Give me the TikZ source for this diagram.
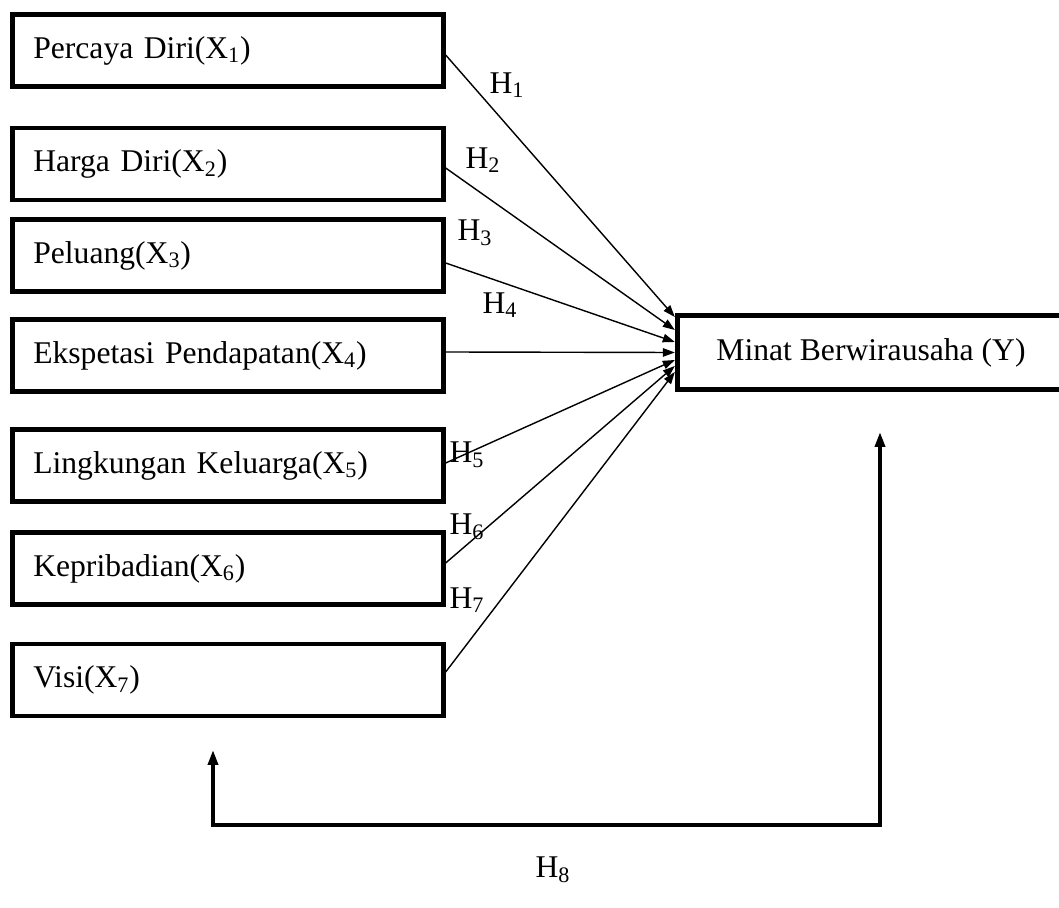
\documentclass[tikz,border=0pt]{standalone}
\usepackage{fontspec}
\setmainfont{Liberation Serif}
\usetikzlibrary{arrows.meta}

\tikzset{
    varbox/.style={draw, line width=2.8pt, minimum width=8.61cm, minimum height=1.44cm,
        text width=7.79cm, inner xsep=0.41cm, align=left, font=\fontsize{18}{22}\selectfont},
    depbox/.style={draw, line width=2.8pt, minimum width=7.75cm, minimum height=1.48cm,
        align=center, font=\fontsize{18}{22}\selectfont},
    hyp/.style={-{Triangle[length=0.24cm,width=0.17cm]}, line width=0.8pt},
    feedback/.style={{Triangle[length=0.3cm,width=0.2cm]}-{Triangle[length=0.3cm,width=0.2cm]}, line width=2pt},
    hlabel/.style={inner sep=0pt, font=\fontsize{18}{22}\selectfont}
}

% one variable box: name, y position (px), text
\newcommand{\varbox}[3]{
    \node[varbox] (#1) at (228,#2) {#3};
}

\begin{document}
\begin{tikzpicture}[x=0.02cm, y=-0.02cm]
    \useasboundingbox (0,0) rectangle (1059,908);

    \varbox{x1}{50.5}{Percaya Diri(X\textsubscript{1})}
    \varbox{x2}{164}{Harga Diri(X\textsubscript{2})}
    \varbox{x3}{255.5}{Peluang(X\textsubscript{3})}
    \varbox{x4}{355.5}{Ekspetasi Pendapatan(X\textsubscript{4})}
    \varbox{x5}{465.5}{Lingkungan Keluarga(X\textsubscript{5})}
    \varbox{x6}{568.5}{Kepribadian(X\textsubscript{6})}
    \varbox{x7}{680}{Visi(X\textsubscript{7})}

    \node[depbox] (Y) at (871,352.5) {Minat Berwirausaha (Y)};

    % hypotheses
    \draw[hyp] ([yshift=-0.09cm]x1.east) -- ([yshift=0.71cm]Y.west);
    \draw[hyp] ([yshift=-0.08cm]x2.east) -- ([yshift=0.45cm]Y.west);
    \draw[hyp] ([yshift=-0.15cm]x3.east) -- ([yshift=0.21cm]Y.west);
    \draw[hyp] ([yshift=0.07cm]x4.east) -- (Y.west);
    \draw[hyp] ([yshift=0.05cm]x5.east) -- ([yshift=-0.15cm]Y.west);
    \draw[hyp] ([yshift=0.11cm]x6.east) -- ([yshift=-0.27cm]Y.west);
    \draw[hyp] ([yshift=0.16cm]x7.east) -- ([yshift=-0.39cm]Y.west);

    \node[hlabel] (h1) at (507,85) {H\textsubscript{1}};
    \node[hlabel] (h2) at (483,160) {H\textsubscript{2}};
    \node[hlabel] (h3) at (475,233) {H\textsubscript{3}};
    \node[hlabel] (h4) at (500,305) {H\textsubscript{4}};
    \node[hlabel] (h5) at (467,455) {H\textsubscript{5}};
    \node[hlabel] (h6) at (467,527) {H\textsubscript{6}};
    \node[hlabel] (h7) at (467,600) {H\textsubscript{7}};

    % H8 loop back
    \coordinate (fbL) at (213,750);
    \coordinate (fbR) at (880,432);
    \draw[feedback] (fbL) -- ++(0,75) -| (fbR);
    \node[hlabel] (h8) at (553,870) {H\textsubscript{8}};
\end{tikzpicture}
\end{document}
